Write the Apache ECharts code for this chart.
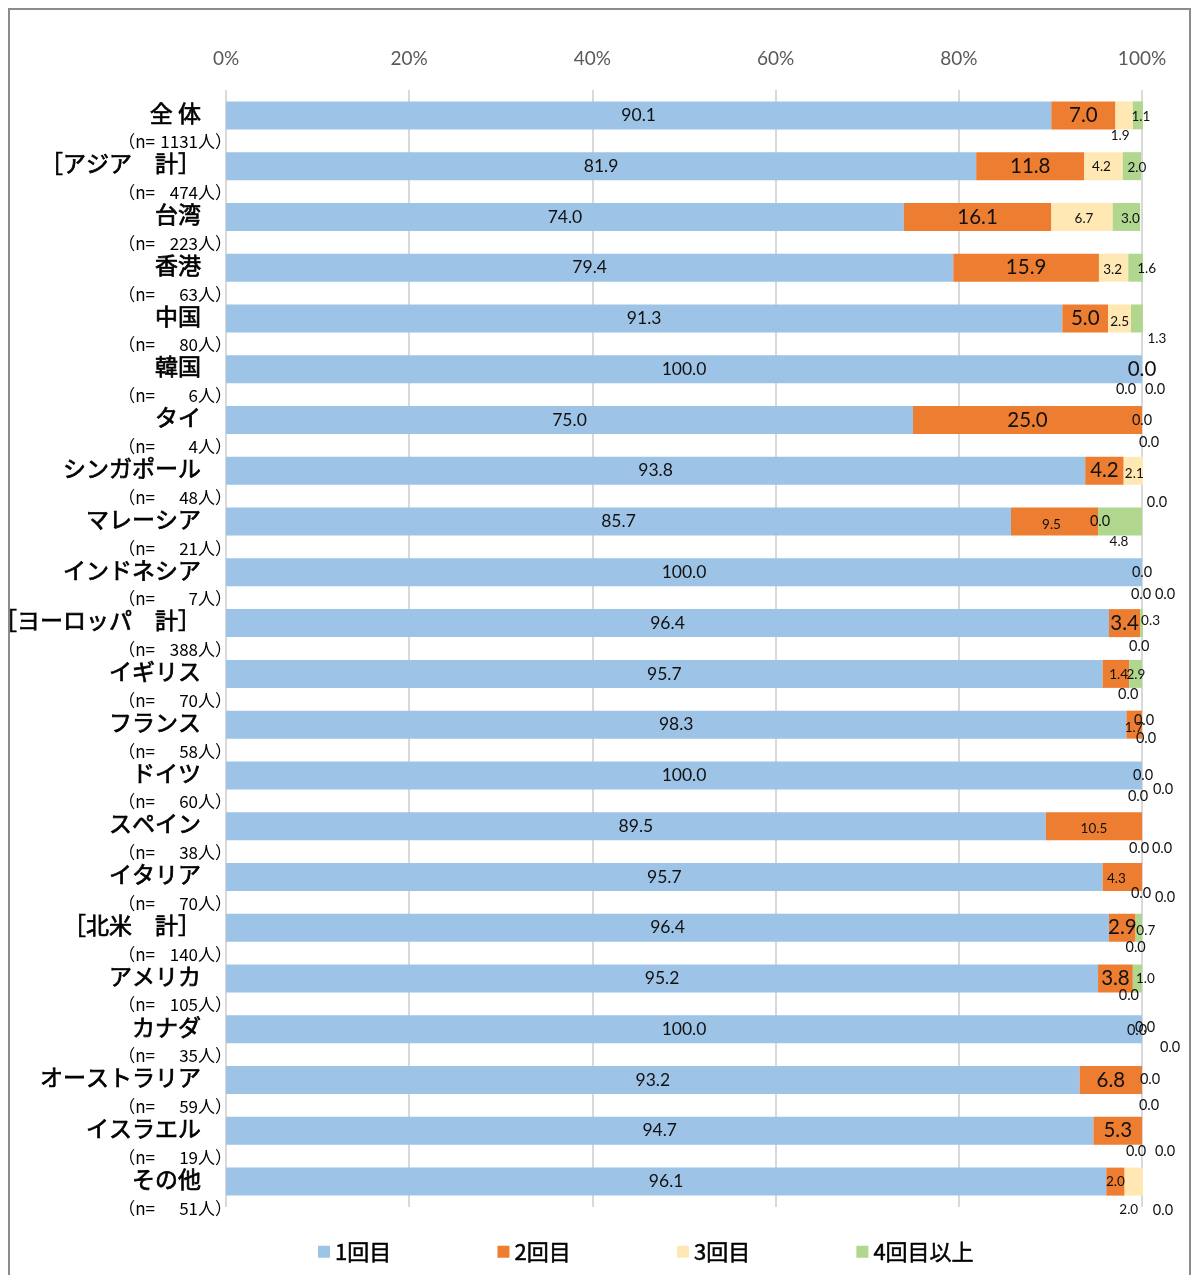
<!DOCTYPE html>
<html><head><meta charset="utf-8">
<script src="https://cdn.jsdelivr.net/npm/echarts@6/dist/echarts.min.js"></script>
<style>html,body{margin:0;padding:0;background:#fff}#c{width:1193px;height:1275px}</style>
</head><body><div id="c"></div>
<script>
// ---------- data ----------
const categories = ['全 体','［アジア　計］','台湾','香港','中国','韓国','タイ','シンガポール','マレーシア','インドネシア','［ヨーロッパ　計］','イギリス','フランス','ドイツ','スペイン','イタリア','［北米　計］','アメリカ','カナダ','オーストラリア','イスラエル','その他'];
const sampleSizes = [1131,474,223,63,80,6,4,48,21,7,388,70,58,60,38,70,140,105,35,59,19,51];
const seriesNames = ['1回目','2回目','3回目','4回目以上'];
const visit1 = [90.1,81.9,74.0,79.4,91.3,100.0,75.0,93.8,85.7,100.0,96.4,95.7,98.3,100.0,89.5,95.7,96.4,95.2,100.0,93.2,94.7,96.1];
const visit2 = [7.0,11.8,16.1,15.9,5.0,0.0,25.0,4.2,9.5,0.0,3.4,2.9,1.7,0.0,10.5,4.3,2.9,3.8,0.0,6.8,5.3,2.0];
const visit3 = [1.9,4.2,6.7,3.2,2.5,0.0,0.0,2.1,0.0,0.0,0.0,0.0,0.0,0.0,0.0,0.0,0.0,0.0,0.0,0.0,0.0,2.0];
const visit4 = [1.1,2.0,3.0,1.6,1.3,0.0,0.0,0.0,4.8,0.0,0.3,1.4,0.0,0.0,0.0,0.0,0.7,1.0,0.0,0.0,0.0,0.0];
const xTicks = [0,20,40,60,80,100];

// ---------- styles ----------
const colors = ['#9dc3e6','#ed7d31','#ffe8b3','#b1d78f'];
const JP = '"Noto Sans CJK JP","Noto Sans",sans-serif';
const NUM = 'Lato,"Open Sans",sans-serif';
// label nudges (pixels) per series, per row
const nudge = [
  {},
  {8:[-3,3],11:[20,1],12:[0,3],13:[1,0],14:[0,2],15:[-6,2],18:[-5,1]},
  {0:[-4,20],1:[-2,0],2:[2,2],3:[-1,2],4:[0,3],5:[-16,20],7:[1,3],8:[2,0],9:[-1,22],10:[-1,23],11:[-1,20],12:[2,-4],13:[-4,21],14:[-3,22],15:[-1,16],16:[0,20],17:[-4,17],18:[3,-2],19:[8,-1],20:[-6,20],21:[-5,28]},
  {0:[3,1],1:[5,1],2:[4,2],3:[11,1],4:[20,20],5:[13,20],6:[7,22],7:[14,32],8:[-1,20],9:[23,22],10:[9,-2],11:[-17,1],12:[4,14],13:[21,14],14:[20,22],15:[23,20],16:[7,3],17:[8,0],18:[28,18],19:[7,25],20:[23,20],21:[20,29]}
];
const bigV2 = [0,1,2,3,4,5,6,7,10,16,17,19,20];
function fontSizeFor(s, i, v) {
  if (s === 0) return 17.5;
  if (s === 1 && bigV2.includes(i)) return 20.5;
  return v === 0 ? 14.5 : 13.5;
}
const allSeries = [visit1, visit2, visit3, visit4];

const series = allSeries.map((arr, s) => ({
  name: seriesNames[s],
  type: 'bar',
  stack: 'total',
  barWidth: 28,
  clip: false,
  itemStyle: { color: colors[s] },
  label: {
    show: true, position: 'inside', color: '#111', fontFamily: NUM,
    formatter: p => Number(p.value).toFixed(1)
  },
  emphasis: { disabled: true },
  data: arr.map((v, i) => ({
    value: v,
    label: { offset: nudge[s][i] || [0, 0], fontSize: fontSizeFor(s, i, v) }
  }))
}));

const chart = echarts.init(document.getElementById('c'));
chart.setOption({
  animation: false,
  backgroundColor: '#fff',
  color: colors,
  graphic: [{
    type: 'rect', shape: { x: 9, y: 9, width: 1181, height: 1300 },
    style: { fill: 'none', stroke: '#8c8c8c', lineWidth: 2 }, silent: true
  }],
  grid: { left: 226, right: 51, top: 90, height: 1117, containLabel: false, outerBoundsMode: 'none' },
  xAxis: {
    type: 'value', position: 'top', min: xTicks[0], max: xTicks[xTicks.length - 1], interval: 20,
    axisLine: { show: false }, axisTick: { show: false },
    axisLabel: { formatter: '{value}%', fontSize: 19, color: '#595959', fontFamily: NUM, margin: 22 },
    splitLine: { show: true, lineStyle: { color: '#d9d9d9', width: 2 } }
  },
  yAxis: {
    type: 'category', inverse: true, data: categories,
    axisLine: { show: false }, axisTick: { show: false },
    axisLabel: {
      margin: -6, interval: 0,
      formatter: (v, i) => `{e| }\n{a|${v}}\n{b|（n=}{num|${sampleSizes[i]}}{b|人）}`,
      rich: {
        e: { fontSize: 2, height: 25, lineHeight: 25 },
        a: { fontSize: 23, lineHeight: 28, height: 28, color: '#000', fontFamily: JP, padding: [0, 31, 0, 0],
             textBorderColor: '#000', textBorderWidth: 0.7 },
        b: { fontSize: 17, lineHeight: 30, height: 30, color: '#000', fontFamily: JP },
        num: { fontSize: 17, lineHeight: 30, height: 30, width: 43, align: 'right', color: '#000', fontFamily: JP }
      }
    }
  },
  legend: {
    bottom: 7, left: 313, itemWidth: 12, itemHeight: 12, itemGap: 106,
    icon: 'rect',
    textStyle: { fontSize: 22, color: '#000', fontFamily: JP, textBorderColor: '#000', textBorderWidth: 0.5 },
    data: seriesNames
  },
  series: series
});
</script>
</body></html>
